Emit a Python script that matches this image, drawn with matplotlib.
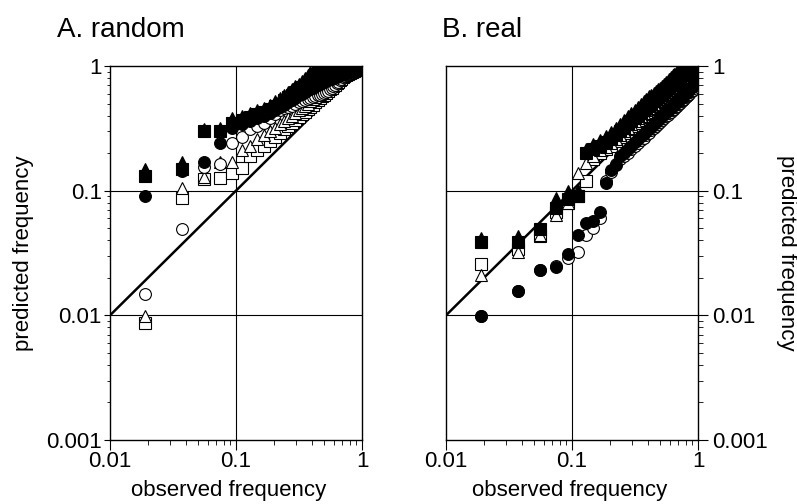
import numpy as np
import matplotlib
matplotlib.use("Agg")
import matplotlib.pyplot as plt
from matplotlib.ticker import FixedLocator, FixedFormatter, LogLocator, NullFormatter

plt.rcParams['font.family'] = ['Liberation Sans', 'DejaVu Sans']

# observed frequency (k/54)
obs = [0.019, 0.037, 0.056, 0.074, 0.093, 0.111, 0.130, 0.148, 0.167, 0.185,
       0.204, 0.222, 0.241, 0.259, 0.278, 0.296, 0.315, 0.333, 0.352, 0.370,
       0.389, 0.407, 0.426, 0.444, 0.463, 0.481, 0.500, 0.519, 0.537, 0.556,
       0.574, 0.593, 0.611, 0.630, 0.648, 0.667, 0.685, 0.704, 0.722, 0.741,
       0.759, 0.778, 0.796, 0.815, 0.833, 0.852, 0.870, 0.889, 0.907, 0.926,
       0.944, 0.963, 0.981, 1.000]

# A. random - predicted frequency
a_filled_tri = [0.150, 0.170, 0.310, 0.320, 0.380, 0.400, 0.420, 0.440, 0.460, 0.490,
                0.520, 0.550, 0.580, 0.620, 0.650, 0.690, 0.720, 0.760, 0.800, 0.850,
                0.890, 0.920, 0.940, 0.950, 0.960, 0.965, 0.970, 0.975, 0.980, 0.980,
                0.985, 0.985, 0.990, 0.990, 0.990, 0.990, 0.995, 0.995, 0.995, 0.995,
                1.000, 1.000, 1.000, 1.000, 1.000, 1.000, 1.000, 1.000, 1.000, 1.000,
                1.000, 1.000, 1.000, 1.000]
a_filled_sq = [0.130, 0.150, 0.300, 0.300, 0.350, 0.370, 0.390, 0.410, 0.430, 0.450,
               0.475, 0.500, 0.530, 0.560, 0.590, 0.620, 0.650, 0.680, 0.710, 0.740,
               0.770, 0.800, 0.830, 0.850, 0.870, 0.890, 0.900, 0.910, 0.920, 0.930,
               0.940, 0.945, 0.950, 0.955, 0.960, 0.965, 0.970, 0.975, 0.980, 0.980,
               0.985, 0.985, 0.990, 0.990, 0.990, 0.995, 0.995, 0.995, 1.000, 1.000,
               1.000, 1.000, 1.000, 1.000]
a_filled_circ = [0.091, 0.145, 0.171, 0.240, 0.320, 0.340, 0.360, 0.380, 0.400, 0.420,
                 0.440, 0.465, 0.490, 0.510, 0.530, 0.555, 0.580, 0.600, 0.620, 0.640,
                 0.655, 0.670, 0.685, 0.700, 0.715, 0.730, 0.745, 0.760, 0.770, 0.780,
                 0.790, 0.800, 0.810, 0.820, 0.830, 0.840, 0.850, 0.860, 0.870, 0.880,
                 0.890, 0.900, 0.905, 0.910, 0.920, 0.925, 0.930, 0.940, 0.950, 0.955,
                 0.960, 0.970, 0.980, 0.990]
a_open_circ = [0.0148, 0.049, 0.155, 0.165, 0.240, 0.270, 0.310, 0.330, 0.350, 0.380,
               0.410, 0.440, 0.460, 0.470, 0.480, 0.500, 0.510, 0.520, 0.530, 0.540,
               0.550, 0.560, 0.570, 0.580, 0.590, 0.600, 0.610, 0.620, 0.630, 0.650,
               0.670, 0.690, 0.710, 0.730, 0.750, 0.770, 0.790, 0.810, 0.830, 0.850,
               0.870, 0.880, 0.890, 0.900, 0.910, 0.920, 0.930, 0.940, 0.950, 0.960,
               0.970, 0.980, 0.990, 1.000]
a_open_tri = [0.0098, 0.105, 0.128, 0.170, 0.170, 0.210, 0.230, 0.260, 0.280, 0.300,
              0.320, 0.340, 0.360, 0.380, 0.400, 0.420, 0.440, 0.460, 0.480, 0.500,
              0.520, 0.540, 0.560, 0.580, 0.600, 0.620, 0.640, 0.660, 0.680, 0.700,
              0.720, 0.740, 0.760, 0.780, 0.800, 0.820, 0.840, 0.860, 0.870, 0.880,
              0.890, 0.900, 0.910, 0.920, 0.930, 0.940, 0.950, 0.960, 0.970, 0.970,
              0.980, 0.990, 0.990, 1.000]
a_open_sq = [0.0087, 0.087, 0.125, 0.126, 0.138, 0.152, 0.190, 0.210, 0.230, 0.250,
             0.270, 0.290, 0.310, 0.330, 0.350, 0.370, 0.390, 0.410, 0.430, 0.450,
             0.470, 0.490, 0.510, 0.530, 0.550, 0.570, 0.590, 0.610, 0.630, 0.650,
             0.670, 0.690, 0.710, 0.730, 0.750, 0.770, 0.790, 0.810, 0.830, 0.850,
             0.860, 0.870, 0.880, 0.890, 0.900, 0.910, 0.920, 0.930, 0.940, 0.950,
             0.960, 0.970, 0.980, 0.990]

# B. real - predicted frequency
b_filled_tri = [0.042, 0.043, 0.050, 0.088, 0.100, 0.102, 0.215, 0.235, 0.255, 0.275,
                0.295, 0.320, 0.345, 0.370, 0.395, 0.420, 0.445, 0.470, 0.495, 0.520,
                0.545, 0.570, 0.590, 0.610, 0.630, 0.650, 0.670, 0.690, 0.715, 0.740,
                0.765, 0.790, 0.815, 0.840, 0.860, 0.880, 0.900, 0.915, 0.930, 0.940,
                0.950, 0.960, 0.965, 0.970, 0.975, 0.980, 0.985, 0.990, 0.990, 0.995,
                0.995, 1.000, 1.000, 1.000]
b_filled_sq = [0.039, 0.039, 0.049, 0.073, 0.085, 0.090, 0.200, 0.215, 0.230, 0.245,
               0.260, 0.280, 0.300, 0.320, 0.340, 0.360, 0.380, 0.400, 0.420, 0.440,
               0.460, 0.480, 0.500, 0.520, 0.540, 0.560, 0.580, 0.600, 0.620, 0.640,
               0.660, 0.680, 0.700, 0.720, 0.740, 0.760, 0.780, 0.800, 0.820, 0.840,
               0.860, 0.875, 0.890, 0.905, 0.920, 0.930, 0.940, 0.950, 0.960, 0.970,
               0.975, 0.980, 0.990, 1.000]
b_filled_circ = [0.0099, 0.0157, 0.023, 0.0246, 0.031, 0.044, 0.055, 0.057, 0.067, 0.115,
                 0.147, 0.160, 0.190, 0.200, 0.215, 0.230, 0.245, 0.260, 0.272, 0.285,
                 0.300, 0.313, 0.327, 0.341, 0.355, 0.369, 0.383, 0.397, 0.411, 0.425,
                 0.438, 0.451, 0.464, 0.477, 0.490, 0.504, 0.518, 0.532, 0.546, 0.560,
                 0.574, 0.588, 0.602, 0.616, 0.630, 0.645, 0.660, 0.675, 0.690, 0.700,
                 0.720, 0.760, 0.800, 0.850]
b_open_circ = [0.0099, 0.0157, 0.023, 0.025, 0.029, 0.032, 0.044, 0.050, 0.060, 0.120,
               0.142, 0.165, 0.180, 0.190, 0.200, 0.214, 0.228, 0.242, 0.254, 0.266,
               0.279, 0.291, 0.304, 0.317, 0.330, 0.343, 0.356, 0.369, 0.382, 0.395,
               0.407, 0.419, 0.431, 0.443, 0.455, 0.468, 0.481, 0.494, 0.507, 0.520,
               0.533, 0.546, 0.559, 0.572, 0.585, 0.600, 0.615, 0.630, 0.645, 0.660,
               0.690, 0.730, 0.780, 0.850]
b_open_tri = [0.021, 0.032, 0.044, 0.064, 0.080, 0.138, 0.166, 0.190, 0.210, 0.225,
              0.240, 0.260, 0.280, 0.300, 0.320, 0.340, 0.360, 0.380, 0.400, 0.420,
              0.440, 0.460, 0.480, 0.500, 0.520, 0.540, 0.560, 0.580, 0.600, 0.620,
              0.640, 0.660, 0.680, 0.700, 0.720, 0.740, 0.760, 0.780, 0.800, 0.820,
              0.840, 0.860, 0.870, 0.880, 0.890, 0.900, 0.910, 0.920, 0.930, 0.940,
              0.950, 0.960, 0.970, 0.980]
b_open_sq = [0.0256, 0.034, 0.043, 0.068, 0.080, 0.090, 0.120, 0.180, 0.200, 0.215,
             0.230, 0.250, 0.270, 0.290, 0.310, 0.330, 0.350, 0.370, 0.390, 0.410,
             0.430, 0.450, 0.470, 0.490, 0.510, 0.530, 0.550, 0.570, 0.590, 0.610,
             0.630, 0.650, 0.670, 0.690, 0.710, 0.730, 0.750, 0.770, 0.790, 0.810,
             0.830, 0.850, 0.870, 0.880, 0.890, 0.900, 0.910, 0.920, 0.930, 0.940,
             0.950, 0.960, 0.970, 0.980]

x_ticks = [0.01, 0.1, 1]
x_labels = ["0.01", "0.1", "1"]
y_ticks = [0.001, 0.01, 0.1, 1]
y_labels = ["0.001", "0.01", "0.1", "1"]

fig = plt.figure(figsize=(7.97, 5.04), dpi=100)
ax_a = fig.add_axes([110 / 797, 1 - 440 / 504, 252 / 797, 374 / 504])
ax_b = fig.add_axes([446 / 797, 1 - 440 / 504, 252 / 797, 374 / 504])

marker_size = {"o": 8.5, "s": 9, "^": 9}
mew = 0.8


def draw_panel(ax, series):
    ax.set_xscale("log")
    ax.set_yscale("log")
    ax.set_xlim(0.01, 1)
    ax.set_ylim(0.001, 1)
    # reference lines
    ax.axvline(0.1, color="black", lw=0.8, zorder=1)
    ax.axhline(0.1, color="black", lw=0.8, zorder=1)
    ax.axhline(0.01, color="black", lw=0.8, zorder=1)
    ax.plot([0.01, 1], [0.01, 1], color="black", lw=1.8, zorder=2)
    z = 3
    for vals, marker, filled in series:
        ax.plot(obs, vals, linestyle="none", marker=marker, markersize=marker_size[marker],
                markeredgewidth=mew, markeredgecolor="black",
                markerfacecolor="black" if filled else "white", zorder=z)
        z += 1
    ax.xaxis.set_major_locator(FixedLocator(x_ticks))
    ax.xaxis.set_major_formatter(FixedFormatter(x_labels))
    ax.xaxis.set_minor_locator(LogLocator(base=10, subs=np.arange(2, 10)))
    ax.xaxis.set_minor_formatter(NullFormatter())
    ax.yaxis.set_major_locator(FixedLocator(y_ticks))
    ax.yaxis.set_major_formatter(FixedFormatter(y_labels))
    ax.yaxis.set_minor_locator(LogLocator(base=10, subs=np.arange(2, 10)))
    ax.yaxis.set_minor_formatter(NullFormatter())
    ax.tick_params(axis="x", which="major", direction="out", length=7, width=0.8,
                   pad=1, labelsize=16)
    ax.tick_params(axis="x", which="minor", direction="out", length=3.5, width=0.6)
    for sp in ax.spines.values():
        sp.set_linewidth(1.0)
    ax.set_xlabel("observed frequency", fontsize=16)


series_a = [(a_open_sq, "s", False), (a_open_tri, "^", False), (a_open_circ, "o", False),
            (a_filled_circ, "o", True), (a_filled_sq, "s", True), (a_filled_tri, "^", True)]
series_b = [(b_open_sq, "s", False), (b_open_tri, "^", False), (b_open_circ, "o", False),
            (b_filled_circ, "o", True), (b_filled_sq, "s", True), (b_filled_tri, "^", True)]

draw_panel(ax_a, series_a)
draw_panel(ax_b, series_b)

ax_a.tick_params(axis="y", which="major", direction="out", length=4, width=0.8,
                 pad=2, labelsize=16)
ax_a.tick_params(axis="y", which="minor", direction="out", length=2.5, width=0.6)
ax_a.set_ylabel("predicted frequency", fontsize=16)
ax_a.yaxis.set_label_coords(-0.302, 0.5)
ax_a.xaxis.set_label_coords(0.47, -0.107)

ax_b.yaxis.tick_right()
ax_b.yaxis.set_label_position("right")
ax_b.tick_params(axis="y", which="major", direction="out", length=7, width=0.8,
                 pad=3, labelsize=16)
ax_b.tick_params(axis="y", which="minor", direction="out", length=3.5, width=0.6)
ax_b.set_ylabel("predicted frequency", fontsize=16, rotation=-90, va="bottom")
ax_b.yaxis.set_label_coords(1.31, 0.5)
ax_b.xaxis.set_label_coords(0.49, -0.107)

fig.text(57 / 797, 1 - 37 / 504, "A. random", fontsize=20, va="baseline")
fig.text(442 / 797, 1 - 37 / 504, "B. real", fontsize=20, va="baseline")

fig.savefig("out.png", dpi=100)
